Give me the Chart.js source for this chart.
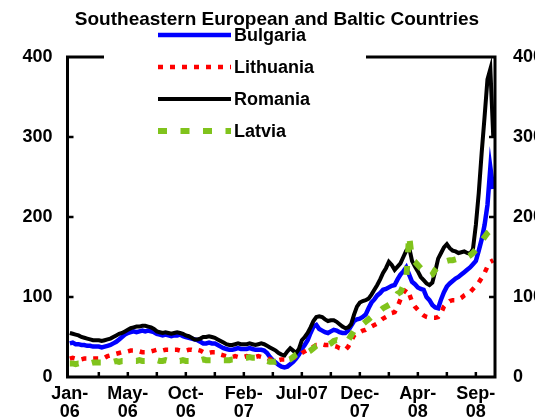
<!DOCTYPE html>
<html><head><meta charset="utf-8">
<script src="https://cdn.jsdelivr.net/npm/chart.js@4.4.1/dist/chart.umd.min.js"></script>
<style>html,body{margin:0;padding:0;background:#fff;}canvas{display:block;}</style>
</head><body>
<canvas id="c" width="535" height="418"></canvas>
<script>
const chartTitle = "Southeastern European and Baltic Countries";
const seriesNames = ["Bulgaria", "Lithuania", "Romania", "Latvia"];
// x tick labels, one every 20 observations (starting at observation 0)
const xTickLabels = [["Jan-","06"],["May-","06"],["Oct-","06"],["Feb-","07"],"Jul-07",["Dec-","07"],["Apr-","08"],["Sep-","08"]];
const yTicks = [0, 100, 200, 300, 400];

const bulgaria = [
42,43,41,41,40,40,39,39,38,38,
38,37,38,39,40,42,44,47,50,53,
55,56,57,56,57,58,57,58,57,56,
54,53,52,53,52,51,52,52,53,51,
50,49,48,47,46,44,42,42,43,42,
42,40,38,36,35,34,34,35,36,35,
35,35,36,35,34,34,34,33,30,25,
21,18,15,13,12,13,16,19,23,28,
35,40,46,55,63,65,60,58,56,55,
57,59,58,56,55,55,58,64,70,72,
73,75,78,86,93,97,102,105,109,110,
112,114,115,122,128,132,137,128,119,116,
112,110,109,100,96,90,87,86,97,106,
113,117,120,123,125,128,131,134,137,141,
145,158,172,190,215,262,235];

const lithuania = [
23,24,23,23,22,23,23,22,23,23,
23,24,24,26,27,28,29,30,31,31,
32,33,33,33,32,31,31,31,32,33,
34,34,33,34,34,33,34,34,33,33,
33,34,34,33,34,33,31,31,30,31,
31,30,28,27,26,25,25,26,25,25,
25,26,25,24,25,26,25,25,24,22,
22,22,21,22,22,22,23,24,25,27,
30,32,34,36,38,40,40,41,40,40,
40,39,38,36,35,34,38,45,52,55,
56,58,59,61,63,65,67,70,73,75,
77,80,81,88,97,105,110,104,94,88,
84,80,77,75,74,74,74,75,80,88,
92,95,96,96,97,99,102,104,106,110,
114,118,124,130,138,144,146];

const romania = [
55,54,53,52,50,49,48,47,46,46,
46,45,46,47,48,50,52,54,55,57,
59,61,62,63,63,64,64,63,62,60,
57,56,55,56,55,54,55,56,55,54,
52,51,49,47,47,48,50,50,51,50,
49,47,45,43,41,40,40,41,42,41,
41,41,42,41,40,41,42,41,39,37,
35,33,30,28,27,32,36,33,30,35,
46,50,55,62,70,75,76,75,72,70,
71,71,69,66,63,61,62,66,78,88,
93,95,96,98,103,109,115,122,130,136,
144,140,134,138,142,150,158,162,145,138,
132,125,121,117,115,118,132,148,155,162,
166,161,158,157,155,156,157,155,154,160,
190,230,280,325,372,385,300];

const latvia = [
17,17,16,17,17,18,17,17,18,18,
18,18,19,18,19,19,20,19,20,20,
20,21,20,20,21,20,20,21,20,20,
21,20,20,21,20,20,21,20,20,21,
20,20,21,20,21,21,22,21,21,21,
21,21,22,21,21,21,22,22,23,24,
24,24,25,24,24,23,24,22,20,19,
19,19,20,20,21,21,22,25,28,30,
30,30,31,33,36,39,40,41,40,40,
42,45,46,45,43,43,46,52,58,62,
64,66,69,72,75,77,80,83,86,88,
90,92,98,104,106,114,122,177,146,144,
140,136,134,130,126,128,134,138,141,144,
145,146,146,147,148,149,149,150,152,155,
159,164,170,175,180,183,181];

const FONT = '"Liberation Sans", Arial, sans-serif';
const toXY = arr => arr.map((v, i) => ({x: i, y: v}));

const decor = {
  id: 'decor',
  afterDatasetsDraw(chart) {
    const {ctx, chartArea: a, scales} = chart;
    ctx.save();
    ctx.strokeStyle = '#000';
    ctx.lineWidth = 3;
    ctx.setLineDash([]);
    ctx.strokeRect(a.left, a.top, a.right - a.left, a.bottom - a.top);
    ctx.lineWidth = 2.5;
    ctx.beginPath();
    scales.x.ticks.forEach(t => {
      const px = scales.x.getPixelForValue(t.value);
      if (px > a.left + 3 && px < a.right - 3) { ctx.moveTo(px, a.bottom); ctx.lineTo(px, a.bottom - 5); }
    });
    scales.y.ticks.forEach(t => {
      const py = scales.y.getPixelForValue(t.value);
      if (py > a.top + 3 && py < a.bottom - 3) {
        ctx.moveTo(a.left, py); ctx.lineTo(a.left + 6, py);
        ctx.moveTo(a.right, py); ctx.lineTo(a.right - 6, py);
      }
    });
    ctx.stroke();

    // legend box
    ctx.fillStyle = '#fff';
    ctx.fillRect(104, 24, 262, 122);
    chart.data.datasets.forEach((ds, i) => {
      const y = 35 + i * 32;
      ctx.beginPath();
      ctx.strokeStyle = ds.borderColor;
      ctx.lineWidth = ds.borderWidth;
      ctx.setLineDash(ds.borderDash || []);
      ctx.lineCap = 'butt';
      ctx.moveTo(158, y); ctx.lineTo(231, y);
      ctx.stroke();
      ctx.setLineDash([]);
      ctx.fillStyle = '#000';
      ctx.font = 'bold 18px ' + FONT;
      ctx.textBaseline = 'middle';
      ctx.textAlign = 'left';
      ctx.fillText(ds.label, 234, y + 1);
    });

    // title
    ctx.fillStyle = '#000';
    ctx.font = 'bold 19px ' + FONT;
    ctx.textAlign = 'center';
    ctx.textBaseline = 'alphabetic';
    ctx.fillText(chartTitle, 277, 25);
    ctx.restore();
  }
};

const seriesStyle = [
  {color: '#0000FF', width: 4.5, dash: [], order: 4},
  {color: '#FF0000', width: 4.5, dash: [5, 7], order: 3},
  {color: '#000000', width: 4, dash: [], order: 2},
  {color: '#80C31C', width: 6, dash: [9, 13.5], order: 1}
];
const seriesData = [bulgaria, lithuania, romania, latvia];

const yTickOpts = pad => ({
  stepSize: 100, padding: pad, color: '#000',
  font: {family: FONT, size: 18, weight: 'bold'}
});

new Chart(document.getElementById('c'), {
  type: 'line',
  data: {
    datasets: seriesData.map((d, i) => ({
      label: seriesNames[i],
      data: toXY(d),
      borderColor: seriesStyle[i].color,
      borderWidth: seriesStyle[i].width,
      borderDash: seriesStyle[i].dash,
      borderCapStyle: 'butt',
      borderJoinStyle: 'miter',
      order: seriesStyle[i].order,
      pointRadius: 0,
      tension: 0,
      fill: false
    }))
  },
  options: {
    responsive: false,
    animation: false,
    events: [],
    layout: {padding: {top: 57, left: 0, right: 0, bottom: 0}},
    plugins: {legend: {display: false}, title: {display: false}, tooltip: {enabled: false}},
    scales: {
      x: {
        type: 'linear', min: -0.8, max: 146.6,
        grid: {display: false, drawTicks: false},
        border: {display: false},
        ticks: {
          stepSize: 10, autoSkip: false, maxRotation: 0, minRotation: 0, includeBounds: false,
          padding: 8, color: '#000',
          font: {family: FONT, size: 18, weight: 'bold', lineHeight: 1},
          callback: v => (v % 20 === 0 && xTickLabels[v / 20] !== undefined) ? xTickLabels[v / 20] : ''
        },
        afterFit: s => { s.height = 41; }
      },
      y: {
        position: 'left', min: yTicks[0], max: yTicks[yTicks.length - 1],
        grid: {display: false, drawTicks: false},
        border: {display: false},
        ticks: yTickOpts(15),
        afterFit: s => { s.width = 67.5; }
      },
      y2: {
        position: 'right', min: yTicks[0], max: yTicks[yTicks.length - 1],
        grid: {display: false, drawTicks: false},
        border: {display: false},
        ticks: yTickOpts(18),
        afterFit: s => { s.width = 40; }
      }
    }
  },
  plugins: [decor]
});
</script>
</body></html>
